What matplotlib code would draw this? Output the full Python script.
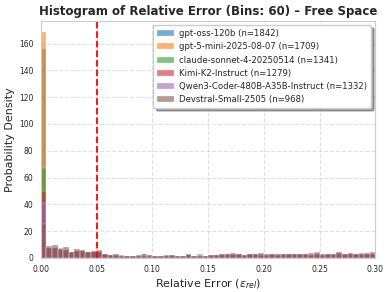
import matplotlib
matplotlib.use("Agg")
import matplotlib.pyplot as plt
import numpy as np
import seaborn as sns

sns.set_style("whitegrid", {"grid.linestyle": "--"})
plt.rcParams['font.family'] = ['DejaVu Sans']

bin_start = 0.0
bin_stop = 0.3
n_bins = 60

models = ["gpt-oss-120b", "gpt-5-mini-2025-08-07", "claude-sonnet-4-20250514",
          "Kimi-K2-Instruct", "Qwen3-Coder-480B-A35B-Instruct", "Devstral-Small-2505"]
counts = [1842, 1709, 1341, 1279, 1332, 968]

gpt_oss = [156, 7.5, 6.5, 6, 5.5, 3.5, 5, 5, 4, 4,
           4, 2.5, 2, 1.5, 1, 1, 1.5, 1.5, 1.5, 1.5,
           1, 1, 1.5, 1.5, 1, 1, 2, 1.5, 1.5, 1.5,
           1.5, 1.5, 2, 2, 2, 2, 2, 2.5, 2, 2.5,
           2, 3, 2, 2.5, 2, 2.5, 2.5, 2.5, 2, 2.5,
           2, 2.5, 2, 3, 2.5, 2.5, 2.5, 2.5, 3, 3]
gpt5_mini = [168.5, 3, 2.5, 2, 2, 1.5, 1.5, 1.5, 1, 1,
             1, 0.8, 0.6, 0.6, 0.5, 0.5, 0.5, 0.5, 0.5, 0.5,
             0.5, 0.5, 0.5, 0.5, 0.5, 0.5, 0.5, 0.5, 0.5, 0.5,
             0.5, 0.5, 0.5, 0.5, 0.5, 0.5, 0.5, 0.5, 0.5, 0.5,
             0.5, 0.5, 0.5, 0.5, 0.5, 0.5, 0.5, 0.5, 0.5, 0.5,
             0.5, 0.5, 0.5, 0.5, 0.5, 0.5, 0.5, 0.5, 0.5, 0.5]
claude = [67, 7, 7, 7, 5.5, 4, 5, 5, 4, 4,
          4, 2.5, 2, 1.5, 1.5, 1.5, 1.5, 1.5, 1.5, 2,
          1.5, 1.5, 1.5, 1.5, 1.5, 1.5, 2, 1.5, 1.5, 1.5,
          2, 2, 2.5, 2.5, 2.5, 2.5, 2, 3, 3, 2.5,
          2, 2.5, 2.5, 2, 3, 2.5, 3, 2.5, 2.5, 4,
          2.5, 2.5, 2, 3, 2.5, 3, 2.5, 3, 3, 3.5]
kimi = [50, 7, 7, 6.5, 5.5, 4, 5, 5, 4, 4,
        4, 2.5, 2, 1.5, 1.5, 1.5, 1.5, 1.5, 2.5, 2,
        1.5, 1.5, 1.5, 1.5, 1.5, 1.5, 2, 1.5, 1.5, 1.5,
        2, 2, 2, 2.5, 3.5, 2.5, 2, 2.5, 2.5, 2.5,
        2.5, 2, 2.5, 3, 2.5, 3, 2.5, 3, 3.5, 3.5,
        3, 2.5, 2.5, 3.5, 2.5, 3, 3, 3, 3.5, 4]
qwen = [41, 7, 7, 6, 5.5, 4, 5, 5, 4.5, 4,
        4, 2.5, 2, 2, 2, 1.5, 1.5, 1.5, 2.5, 2,
        1.5, 1.5, 1.5, 2, 1.5, 1.5, 2, 1.5, 2.5, 1.5,
        1.5, 2, 2, 2.5, 2.5, 2.5, 2, 2.5, 2.5, 3.5,
        3, 3, 2.5, 2.5, 2.5, 3, 3, 2.5, 3, 3,
        2.5, 2.5, 2.5, 3, 3, 3, 3, 3.5, 3.5, 3.5]
devstral = [25, 8.5, 9.5, 6.5, 8, 4.5, 6.5, 6, 4.5, 5,
            5.5, 3, 2, 2.5, 1.5, 1.5, 1.5, 2, 1.5, 1.5,
            1, 1.5, 2, 2, 1.5, 1.5, 2.5, 1.5, 1.5, 1.5,
            2, 2, 2.5, 2.5, 2.5, 2.5, 2, 2.5, 2.5, 2,
            2, 2.5, 2, 3, 2.5, 2.5, 2.5, 3, 2, 2.5,
            2, 2.5, 2.5, 4, 2.5, 3.5, 3, 2.5, 3, 3]

series = [gpt_oss, gpt5_mini, claude, kimi, qwen, devstral]
threshold = 0.05

edges = np.linspace(bin_start, bin_stop, n_bins + 1)
width = edges[1] - edges[0]
colors = plt.get_cmap("tab10").colors

fig, ax = plt.subplots(figsize=(3.89, 2.92), dpi=100)
for i, (name, n, vals) in enumerate(zip(models, counts, series)):
    ax.bar(edges[:-1], vals, width=width, align='edge', color=colors[i], alpha=0.6,
           edgecolor='white', linewidth=0.3, label=f"{name} (n={n})")
ax.axvline(threshold, color='red', linestyle='--', linewidth=1.3)

ax.set_xlim(bin_start, bin_stop)
ax.set_title("Histogram of Relative Error (Bins: 60) \u2013 Free Space", fontsize=8.5, fontweight='bold', pad=4)
ax.set_xlabel(r"Relative Error ($\epsilon_{rel}$)", fontsize=8, labelpad=2)
ax.set_ylabel("Probability Density", fontsize=8, labelpad=3)
ax.tick_params(axis='both', labelsize=5.5, pad=2)
ax.grid(True, linestyle='--', alpha=0.6)
ax.set_axisbelow(True)
ax.legend(loc='upper right', fontsize=6.1, shadow=True, framealpha=1, handlelength=2.0,
          borderpad=0.45, labelspacing=0.5, handletextpad=0.6)

fig.subplots_adjust(left=0.105, right=0.965, top=0.928, bottom=0.117)
fig.savefig("out.png", dpi=100)
